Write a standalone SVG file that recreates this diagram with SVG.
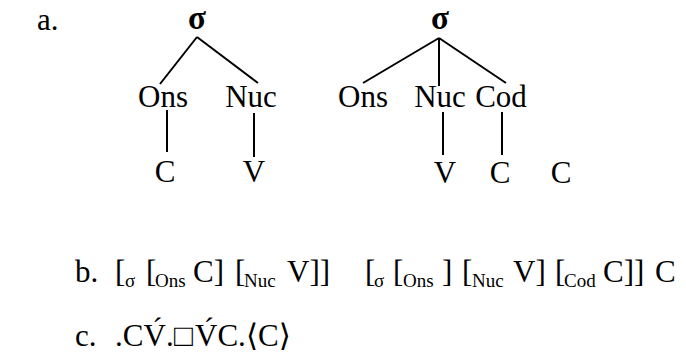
<svg xmlns="http://www.w3.org/2000/svg" width="686" height="356" viewBox="0 0 686 356">
  <style>
    text { font-family: "Liberation Serif", "DejaVu Serif", serif; fill: #000; }
    .lab { font-size: 31px; }
    .sig { font-size: 33px; font-weight: bold; text-anchor: middle; }
    .node { font-size: 31px; text-anchor: middle; }
    .sub { font-size: 19px; }
    .edge { stroke: #000; stroke-width: 2; fill: none; }
  </style>
  <rect width="686" height="356" fill="#fff"/>

  <text class="lab" x="37" y="30">a.</text>

  <!-- tree 1 : CV syllable -->
  <g id="tree1">
    <g id="t1-sigma"><text class="sig" x="197" y="29">σ</text></g>
    <g id="t1-ons"><text class="node" x="163" y="107">Ons</text></g>
    <g id="t1-nuc"><text class="node" x="251" y="107">Nuc</text></g>
    <g id="t1-c"><text class="node" x="165" y="182">C</text></g>
    <g id="t1-v"><text class="node" x="254" y="182">V</text></g>
  </g>

  <!-- tree 2 : empty onset, coda, extra C -->
  <g id="tree2">
    <g id="t2-sigma"><text class="sig" x="440" y="29">σ</text></g>
    <g id="t2-ons"><text class="node" x="363" y="107">Ons</text></g>
    <g id="t2-nuc"><text class="node" x="440" y="107">Nuc</text></g>
    <g id="t2-cod"><text class="node" x="501" y="107">Cod</text></g>
    <g id="t2-v"><text class="node" x="445" y="183">V</text></g>
    <g id="t2-c"><text class="node" x="500" y="183">C</text></g>
    <g id="t2-c2"><text class="node" x="561" y="183">C</text></g>
  </g>

  <g id="connectors">
    <line class="edge" x1="197" y1="37" x2="160" y2="84"/>
    <line class="edge" x1="197" y1="37" x2="258" y2="83"/>
    <line class="edge" x1="167" y1="110" x2="167" y2="152"/>
    <line class="edge" x1="254" y1="113" x2="254" y2="157"/>
    <line class="edge" x1="439" y1="38" x2="363" y2="83"/>
    <line class="edge" x1="439" y1="38" x2="439" y2="86"/>
    <line class="edge" x1="439" y1="38" x2="506" y2="83"/>
    <line class="edge" x1="443" y1="112" x2="443" y2="155"/>
    <line class="edge" x1="502" y1="112" x2="502" y2="155"/>
  </g>

  <!-- bracketed notation -->
  <text class="lab" x="75" y="282">b.</text>
  <g id="bracket1">
    <text class="lab" x="115" y="282">[</text>
    <text class="sub" x="125" y="287">σ</text>
    <text class="lab" x="146" y="282">[</text>
    <text class="sub" x="155" y="287">Ons</text>
    <text class="lab" x="193" y="282">C]</text>
    <text class="lab" x="235" y="282">[</text>
    <text class="sub" x="244" y="287">Nuc</text>
    <text class="lab" x="287" y="282">V]]</text>
  </g>
  <g id="bracket2">
    <text class="lab" x="365" y="282">[</text>
    <text class="sub" x="374" y="287">σ</text>
    <text class="lab" x="393" y="282">[</text>
    <text class="sub" x="403" y="287">Ons</text>
    <text class="lab" x="442" y="282">]</text>
    <text class="lab" x="462" y="282">[</text>
    <text class="sub" x="472" y="287">Nuc</text>
    <text class="lab" x="513" y="282">V]</text>
    <text class="lab" x="555" y="282">[</text>
    <text class="sub" x="564" y="287">Cod</text>
    <text class="lab" x="603" y="282">C]]</text>
    <text class="lab" x="655" y="282">C</text>
  </g>

  <!-- syllabified string -->
  <text class="lab" x="75" y="346">c.</text>
  <text class="lab" y="346"><tspan x="115">.CV&#x301;</tspan><tspan x="166">.</tspan><tspan x="174">&#x25A1;</tspan><tspan x="195">V&#x301;C.</tspan><tspan x="246">&#x27E8;C&#x27E9;</tspan></text>
</svg>
